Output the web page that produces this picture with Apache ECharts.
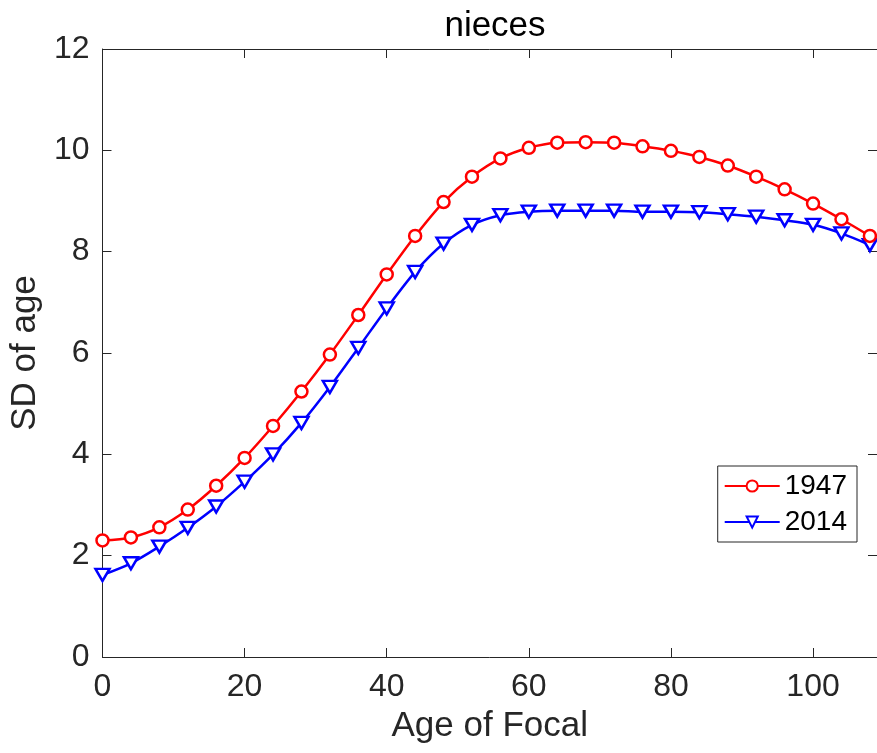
<!DOCTYPE html>
<html>
<head>
<meta charset="utf-8">
<script src="https://cdn.jsdelivr.net/npm/echarts@6/dist/echarts.min.js"></script>
<style>
  html, body { margin: 0; padding: 0; background: #fff; }
  #chart { width: 877px; height: 753px; }
</style>
</head>
<body>
<div id="chart"></div>
<script>
// age of Focal (markers every 4 years)
var ages = [0, 4, 8, 12, 16, 20, 24, 28, 32, 36, 40, 44, 48, 52, 56, 60, 64, 68, 72, 76, 80, 84, 88, 92, 96, 100, 104, 108];
// SD of age, 1947
var sd1947 = [2.30, 2.36, 2.56, 2.91, 3.38, 3.93, 4.56, 5.24, 5.97, 6.75, 7.55, 8.31, 8.98, 9.48, 9.84, 10.05, 10.15, 10.16, 10.15, 10.08, 9.99, 9.87, 9.70, 9.48, 9.23, 8.95, 8.64, 8.31];
// SD of age, 2014
var sd2014 = [1.62, 1.85, 2.18, 2.55, 2.97, 3.46, 4.00, 4.62, 5.33, 6.10, 6.88, 7.60, 8.16, 8.53, 8.72, 8.79, 8.81, 8.81, 8.81, 8.79, 8.79, 8.78, 8.74, 8.69, 8.62, 8.53, 8.36, 8.13];

function pairs(xs, ys) {
  return xs.map(function (x, i) { return [x, ys[i]]; });
}

var axisColor = "#262626";
var fontFam = "Liberation Sans, Arial, sans-serif";

// MATLAB-style box: ticks inward on all four sides
function boxAxis(extra) {
  var ax = {
    type: "value",
    axisLine: { show: true, onZero: false, lineStyle: { color: axisColor } },
    axisTick: { show: true, inside: true, length: 9, lineStyle: { color: axisColor } },
    splitLine: { show: false }
  };
  for (var k in extra) ax[k] = extra[k];
  return ax;
}

var chart = echarts.init(document.getElementById("chart"));

var option = {
  animation: false,
  backgroundColor: "#fff",
  title: {
    text: "nieces",
    left: 490,
    textAlign: "center",
    top: 4,
    textStyle: { fontFamily: fontFam, fontSize: 35, fontWeight: "normal", color: "#000" }
  },
  grid: {
    left: 100,
    right: 0,
    top: 49,
    bottom: 96
  },
  legend: {
    right: 20,
    top: 466,
    orient: "vertical",
    itemWidth: 55,
    itemHeight: 14,
    itemGap: 8,
    padding: [6, 10, 6, 6],
    borderColor: axisColor,
    borderWidth: 1,
    backgroundColor: "#fff",
    textStyle: { fontFamily: fontFam, fontSize: 28, color: "#000" },
    data: ["1947", "2014"]
  },
  xAxis: [
    boxAxis({
      min: 0,
      max: 109,
      interval: 20,
      name: "Age of Focal",
      nameLocation: "middle",
      nameGap: 52,
      nameTextStyle: { fontFamily: fontFam, fontSize: 35, color: axisColor },
      axisLabel: { fontFamily: fontFam, fontSize: 32, color: axisColor, margin: 14, showMaxLabel: false }
    }),
    boxAxis({
      position: "top",
      min: 0,
      max: 109,
      interval: 20,
      axisLabel: { show: false }
    })
  ],
  yAxis: [
    boxAxis({
      min: 0,
      max: 12,
      interval: 2,
      name: "SD of age",
      nameLocation: "middle",
      nameGap: 54,
      nameTextStyle: { fontFamily: fontFam, fontSize: 35, color: axisColor },
      axisLabel: { fontFamily: fontFam, fontSize: 32, color: axisColor, margin: 13 }
    }),
    boxAxis({
      position: "right",
      min: 0,
      max: 12,
      interval: 2,
      axisLabel: { show: false }
    })
  ],
  series: [
    {
      name: "1947",
      type: "line",
      data: pairs(ages, sd1947),
      smooth: 0.3,
      symbol: "circle",
      symbolSize: 12,
      color: "#ff0000",
      lineStyle: { color: "#ff0000", width: 2.5 },
      itemStyle: { color: "#fff", borderColor: "#ff0000", borderWidth: 2.5 },
      z: 3
    },
    {
      name: "2014",
      type: "line",
      data: pairs(ages, sd2014),
      smooth: 0.3,
      symbol: "triangle",
      symbolRotate: 180,
      symbolSize: [14, 12],
      color: "#0000ff",
      lineStyle: { color: "#0000ff", width: 2.5 },
      itemStyle: { color: "#fff", borderColor: "#0000ff", borderWidth: 2.5 },
      z: 2
    }
  ]
};

chart.setOption(option);
</script>
</body>
</html>
